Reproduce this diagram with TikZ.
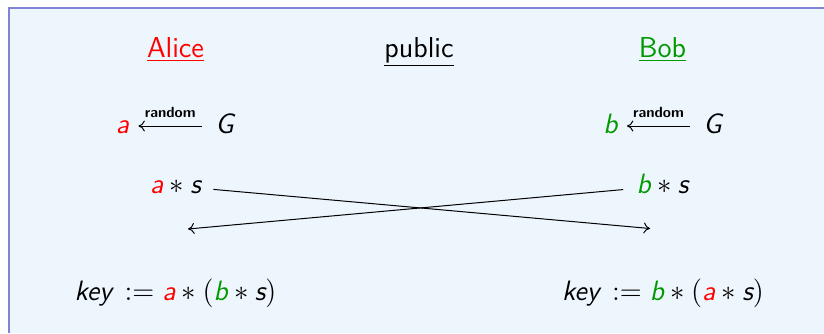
\documentclass[tikz,border=0pt]{standalone}
\usetikzlibrary{arrows.meta}
\definecolor{panelbg}{RGB}{238,246,253}
\definecolor{panelrule}{RGB}{128,132,214}
\definecolor{alicered}{RGB}{255,0,0}
\definecolor{bobgreen}{RGB}{0,153,0}
% sans oblique letters for variables
\newcommand\mv[1]{\mbox{\sffamily\itshape #1}}
\newcommand\va{\textcolor{alicered}{\mv{a}}}
\newcommand\vb{\textcolor{bobgreen}{\mv{b}}}
\tikzset{
  txt/.style={anchor=base, inner sep=0pt},
  title/.style={txt, font=\sffamily\fontsize{14.4}{17}\selectfont},
  sym/.style={anchor=base, inner ysep=0pt, text height=7pt, text depth=0pt},
  lbl/.style={font=\sffamily\bfseries\fontsize{7.4}{9}\selectfont, inner sep=0pt, above=4pt},
  link/.style={line width=0.5pt, -{To[length=3.2pt,width=5.5pt]}},
}
\begin{document}
\begin{tikzpicture}[x=0.5pt, y=-0.5pt, font=\sffamily\fontsize{14}{17}\selectfont]
\useasboundingbox (0,0) rectangle (824,333);
% panel
\fill[panelbg] (8,7) rectangle (824,333);
\draw[panelrule, line width=1pt] (8.75,333) -- (8.75,7.75) -- (824,7.75);

% column headings
\node[title, text=alicered] (alice) at (175.5,57) {\underline{Alice}};
\node[title] (public) at (419,57) {\underline{public}};
\node[title, text=bobgreen] (bob) at (662.5,57) {\underline{Bob}};

% random choices
\node[sym, inner xsep=4.5pt] (a) at (122.5,133) {$\va$};
\node[sym, inner xsep=6.5pt] (Ga) at (224.5,133) {$\mv{G}$};
\draw[link] (Ga) -- node[lbl] {random} (a);

\node[sym, inner xsep=4.5pt] (b) at (610.5,133) {$\vb$};
\node[sym, inner xsep=6.5pt] (Gb) at (712.5,133) {$\mv{G}$};
\draw[link] (Gb) -- node[lbl] {random} (b);

% exchanged values
\node[sym, inner xsep=6pt] (as) at (175.5,193) {$\va * \mv{s}$};
\node[sym, inner xsep=6.5pt] (bs) at (662.5,193) {$\vb * \mv{s}$};
\coordinate (toBob) at (650,228.5);
\coordinate (toAlice) at (188,229);
\draw[link] (as) -- (toBob);
\draw[link] (bs) -- (toAlice);

% shared keys
\node[txt] (keya) at (175.5,300) {$\mv{key}\, := \va * (\vb * \mv{s})$};
\node[txt] (keyb) at (663,300) {$\mv{key}\, := \vb * (\va * \mv{s})$};
\end{tikzpicture}
\end{document}
